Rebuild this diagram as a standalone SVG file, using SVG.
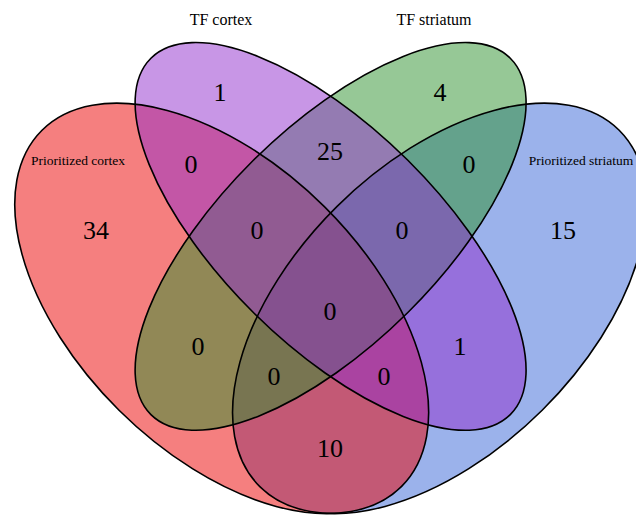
<svg xmlns="http://www.w3.org/2000/svg" width="636" height="515" viewBox="0 0 636 515">
<style>
.fillset{stroke:none;fill-opacity:0.5}
.edge{fill:none;stroke:#000;stroke-width:1.6;vector-effect:non-scaling-stroke}
.lbl{font-family:"Liberation Serif","Times New Roman",serif;fill:#000;text-anchor:middle}
.cat{font-size:13.5px}
.top{font-size:16px}
.num{font-family:"Liberation Serif","Times New Roman",serif;font-size:26px;fill:#000;text-anchor:middle}
</style>
<rect width="636" height="515" fill="#fff"/>
<g transform="translate(-32.4,646.8) scale(726,-720)">
  <g id="prioritized-striatum"><ellipse class="fillset" fill="#3765d7" cx="0" cy="0" rx="0.35" ry="0.2" transform="translate(0.65,0.47) rotate(45)"/></g>
  <g id="prioritized-cortex"><ellipse class="fillset" fill="#eb0000" cx="0" cy="0" rx="0.35" ry="0.2" transform="translate(0.35,0.47) rotate(-45)"/></g>
  <g id="tf-striatum"><ellipse class="fillset" fill="#2d912d" cx="0" cy="0" rx="0.35" ry="0.15" transform="translate(0.5,0.57) rotate(45)"/></g>
  <g id="tf-cortex"><ellipse class="fillset" fill="#912dcd" cx="0" cy="0" rx="0.35" ry="0.15" transform="translate(0.5,0.57) rotate(-45)"/></g>
  <g id="outlines">
    <ellipse class="edge" cx="0" cy="0" rx="0.35" ry="0.2" transform="translate(0.65,0.47) rotate(45)"/>
    <ellipse class="edge" cx="0" cy="0" rx="0.35" ry="0.2" transform="translate(0.35,0.47) rotate(-45)"/>
    <ellipse class="edge" cx="0" cy="0" rx="0.35" ry="0.15" transform="translate(0.5,0.57) rotate(45)"/>
    <ellipse class="edge" cx="0" cy="0" rx="0.35" ry="0.15" transform="translate(0.5,0.57) rotate(-45)"/>
  </g>
</g>
<g id="set-labels">
  <text class="lbl top" x="221" y="25">TF cortex</text>
  <text class="lbl top" x="434" y="25">TF striatum</text>
  <text class="lbl cat" x="78" y="165">Prioritized cortex</text>
  <text class="lbl cat" x="581" y="165">Prioritized striatum</text>
</g>
<g id="counts">
  <text class="num" x="220" y="101">1</text>
  <text class="num" x="440" y="101">4</text>
  <text class="num" x="330" y="160">25</text>
  <text class="num" x="191" y="173">0</text>
  <text class="num" x="469" y="173">0</text>
  <text class="num" x="96" y="239">34</text>
  <text class="num" x="257" y="239">0</text>
  <text class="num" x="402" y="239">0</text>
  <text class="num" x="563" y="239">15</text>
  <text class="num" x="330" y="320">0</text>
  <text class="num" x="198" y="355">0</text>
  <text class="num" x="460" y="355">1</text>
  <text class="num" x="274" y="385">0</text>
  <text class="num" x="384" y="385">0</text>
  <text class="num" x="330" y="457">10</text>
</g>
</svg>
